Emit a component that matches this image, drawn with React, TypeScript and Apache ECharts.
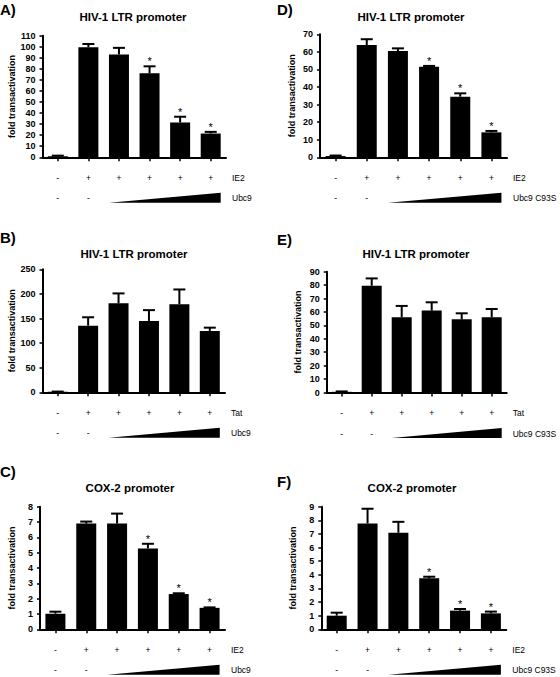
import React, { useEffect, useRef } from "react";
import * as echarts from "echarts";

// ---------- data ----------
const categories = ["1", "2", "3", "4", "5", "6"];
const ie2Row = ["-", "+", "+", "+", "+", "+"];
const ubc9Row = ["-", "-", "", "", "", ""];

const valuesA = [1, 99.5, 93, 76, 31.5, 21.5];
const errorsA = [0.5, 3, 6, 6.3, 5.2, 1.5];
const starsA = [0, 0, 0, 1, 1, 1];

const valuesD = [0.7, 63.9, 60.5, 51.6, 34.5, 14.2];
const errorsD = [0.3, 3.3, 1.5, 0.4, 1.9, 0.8];
const starsD = [0, 0, 0, 1, 1, 1];

const valuesB = [1, 135.5, 181, 145, 179, 124.7];
const errorsB = [0.5, 17, 20, 22, 30, 6.7];
const starsB = [0, 0, 0, 0, 0, 0];

const valuesE = [0.5, 79.5, 56, 61, 54.5, 56];
const errorsE = [0.3, 5.5, 8.5, 6.2, 4.5, 6.2];
const starsE = [0, 0, 0, 0, 0, 0];

const valuesC = [1.02, 6.9, 6.9, 5.28, 2.3, 1.4];
const errorsC = [0.13, 0.13, 0.65, 0.3, 0.05, 0.03];
const starsC = [0, 0, 0, 1, 1, 1];

const valuesF = [1.0, 7.77, 7.09, 3.74, 1.37, 1.17];
const errorsF = [0.22, 1.08, 0.8, 0.12, 0.12, 0.13];
const starsF = [0, 0, 0, 1, 1, 1];

const FONT = "'Liberation Sans', Arial, Helvetica, sans-serif";

const panels = [
  { letter: "A)", title: "HIV-1 LTR promoter", values: valuesA, errors: errorsA, stars: starsA, max: 110, interval: 10, row1: "IE2", row2: "Ubc9",
    grid: { left: 42.5, top: 35.7, width: 183.5, height: 121.6 }, letterPos: [0, 9], titlePos: [133, 17] },
  { letter: "D)", title: "HIV-1 LTR promoter", values: valuesD, errors: errorsD, stars: starsD, max: 70, interval: 10, row1: "IE2", row2: "Ubc9 C93S",
    grid: { left: 320, top: 34.3, width: 187, height: 123 }, letterPos: [277, 9], titlePos: [411, 17] },
  { letter: "B)", title: "HIV-1 LTR promoter", values: valuesB, errors: errorsB, stars: starsB, max: 250, interval: 50, row1: "Tat", row2: "Ubc9",
    grid: { left: 42.5, top: 269.3, width: 182.5, height: 123 }, letterPos: [0, 237.5], titlePos: [134, 253.5] },
  { letter: "E)", title: "HIV-1 LTR promoter", values: valuesE, errors: errorsE, stars: starsE, max: 90, interval: 10, row1: "Tat", row2: "Ubc9 C93S",
    grid: { left: 326.7, top: 271.7, width: 180, height: 120.8 }, letterPos: [277, 239], titlePos: [416, 253.5] },
  { letter: "C)", title: "COX-2 promoter", values: valuesC, errors: errorsC, stars: starsC, max: 8, interval: 1, row1: "IE2", row2: "Ubc9",
    grid: { left: 40, top: 506.7, width: 185, height: 122.6 }, letterPos: [0, 471], titlePos: [130, 488] },
  { letter: "F)", title: "COX-2 promoter", values: valuesF, errors: errorsF, stars: starsF, max: 9, interval: 1, row1: "IE2", row2: "Ubc9 C93S",
    grid: { left: 321.3, top: 506.7, width: 185, height: 122.6 }, letterPos: [277, 481.5], titlePos: [412, 488] },
];

function buildOption() {
  const grids: any[] = [];
  const xAxes: any[] = [];
  const yAxes: any[] = [];
  const series: any[] = [];
  const graphics: any[] = [];

  panels.forEach((p, i) => {
    grids.push({ ...p.grid, containLabel: false });
    xAxes.push({
      type: "category",
      gridIndex: i,
      data: categories,
      axisLine: { show: true, lineStyle: { color: "#000", width: 2 } },
      axisTick: { show: true, alignWithLabel: true, length: 4, lineStyle: { color: "#000", width: 1.5 } },
      axisLabel: { show: false },
      splitLine: { show: false },
    });
    yAxes.push({
      type: "value",
      gridIndex: i,
      min: 0,
      max: p.max,
      interval: p.interval,
      name: "fold transactivation",
      nameLocation: "middle",
      nameGap: 24,
      nameTextStyle: { fontFamily: FONT, fontWeight: "bold", fontSize: 9, color: "#000" },
      axisLine: { show: true, lineStyle: { color: "#000", width: 2 } },
      axisTick: { show: true, length: 3, lineStyle: { color: "#000", width: 1.5 } },
      axisLabel: { fontFamily: FONT, fontWeight: "bold", fontSize: 9, color: "#000", margin: 7 },
      splitLine: { show: false },
    });
    series.push({
      type: "bar",
      xAxisIndex: i,
      yAxisIndex: i,
      data: p.values,
      barWidth: 20,
      itemStyle: { color: "#000" },
      z: 2,
    });
    series.push({
      type: "custom",
      xAxisIndex: i,
      yAxisIndex: i,
      z: 3,
      data: p.values.map((v, k) => [k, v, p.errors[k], p.stars[k]]),
      renderItem: (params: any, api: any) => {
        const x = api.value(0);
        const v = api.value(1);
        const e = api.value(2);
        const s = api.value(3);
        const base = api.coord([x, v]);
        const top = api.coord([x, v + e]);
        const children: any[] = [
          { type: "line", shape: { x1: base[0], y1: base[1], x2: top[0], y2: top[1] }, style: { stroke: "#000", lineWidth: 2 } },
          { type: "line", shape: { x1: top[0] - 6, y1: top[1], x2: top[0] + 6, y2: top[1] }, style: { stroke: "#000", lineWidth: 2 } },
        ];
        if (s) {
          children.push({
            type: "text",
            x: top[0],
            y: top[1] - 5,
            style: { text: "*", fill: "#000", fontSize: 11, fontFamily: FONT, align: "center", verticalAlign: "middle" },
          });
        }
        return { type: "group", children };
      },
    });
    // treatment rows under the axis
    series.push({
      type: "custom",
      xAxisIndex: i,
      yAxisIndex: i,
      z: 3,
      clip: false,
      silent: true,
      data: [[0, 0]],
      renderItem: (params: any, api: any) => {
        const children: any[] = [];
        const yb = api.coord([0, 0])[1];
        const half = api.size([1, 0])[0];
        const rowStyle = { fill: "#000", fontSize: 8.5, fontFamily: FONT, align: "center", verticalAlign: "middle" };
        categories.forEach((_, k) => {
          const cx = api.coord([k, 0])[0];
          if (ie2Row[k]) children.push({ type: "text", x: cx, y: yb + 20.5, style: { ...rowStyle, text: ie2Row[k] } });
          if (ubc9Row[k]) children.push({ type: "text", x: cx, y: yb + 41, style: { ...rowStyle, text: ubc9Row[k] } });
        });
        const right = params.coordSys.x + params.coordSys.width;
        children.push({ type: "text", x: right + 6, y: yb + 20.5, style: { ...rowStyle, align: "left", text: p.row1 } });
        children.push({ type: "text", x: right + 6, y: yb + 41, style: { ...rowStyle, align: "left", text: p.row2 } });
        const x0 = api.coord([2, 0])[0] - 10;
        const x1 = api.coord([5, 0])[0] + 10;
        void half;
        children.push({
          type: "polygon",
          shape: { points: [[x0, yb + 45.5], [x1, yb + 45.5], [x1, yb + 35.5]] },
          style: { fill: "#000" },
        });
        return { type: "group", children };
      },
    });
    graphics.push({
      type: "text",
      x: p.letterPos[0],
      y: p.letterPos[1],
      style: { text: p.letter, fill: "#000", fontSize: 15, fontWeight: "bold", fontFamily: FONT, align: "left", verticalAlign: "middle" },
    });
    graphics.push({
      type: "text",
      x: p.titlePos[0],
      y: p.titlePos[1],
      style: { text: p.title, fill: "#000", fontSize: 11.5, fontWeight: "bold", fontFamily: FONT, align: "center", verticalAlign: "middle" },
    });
  });

  return {
    animation: false,
    backgroundColor: "#fff",
    grid: grids,
    xAxis: xAxes,
    yAxis: yAxes,
    series,
    graphic: graphics,
  };
}

export default function App() {
  const ref = useRef<HTMLDivElement>(null);
  useEffect(() => {
    if (!ref.current) return;
    const chart = echarts.init(ref.current, null, { renderer: "svg" });
    chart.setOption(buildOption() as any);
    return () => chart.dispose();
  }, []);
  return (
    <div
      ref={ref}
      style={{ position: "fixed", left: 0, top: 0, width: 560, height: 677, background: "#fff" }}
    />
  );
}
